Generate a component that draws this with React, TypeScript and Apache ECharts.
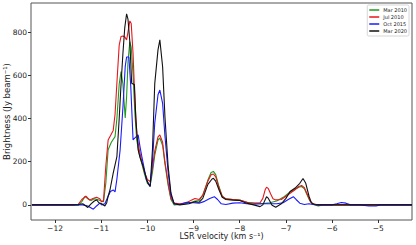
import React, { useEffect, useRef } from "react";
import * as echarts from "echarts";

const seriesNames = ["Mar 2010", "Jul 2010", "Oct 2015", "Mar 2020"];
const seriesColors = ["#1f9a1f", "#e8161b", "#1a1aff", "#111111"];

const xTicks = [-12, -11, -10, -9, -8, -7, -6, -5];
const yTicks = [0, 200, 400, 600, 800];

// [LSR velocity (km/s), brightness (Jy/beam)]
const mar2010: number[][] = [
  [-12.5, 0], [-11.6, 0], [-11.5, -3], [-11.42, 15], [-11.35, 40], [-11.3, 30], [-11.22, 20], [-11.15, 28],
  [-11.08, 25], [-11.0, 18], [-10.95, 15], [-10.9, 100], [-10.85, 255], [-10.78, 290], [-10.7, 316],
  [-10.66, 400], [-10.61, 560], [-10.57, 617], [-10.53, 560], [-10.48, 403], [-10.45, 500], [-10.42, 660],
  [-10.38, 756], [-10.35, 730], [-10.31, 600], [-10.27, 420], [-10.23, 300], [-10.18, 240], [-10.12, 190],
  [-10.06, 140], [-10.0, 100], [-9.94, 90], [-9.89, 150], [-9.84, 230], [-9.77, 300], [-9.73, 310],
  [-9.67, 275], [-9.62, 190], [-9.55, 90], [-9.49, 25], [-9.42, 0], [-9.3, 2], [-9.1, 8], [-8.97, 18],
  [-8.88, 20], [-8.8, 45], [-8.69, 115], [-8.62, 150], [-8.57, 155], [-8.52, 140], [-8.45, 85], [-8.38, 40],
  [-8.3, 28], [-8.15, 25], [-8.0, 22], [-7.85, 12], [-7.7, 8], [-7.5, 6], [-7.35, 10], [-7.2, 18],
  [-7.06, 35], [-6.91, 60], [-6.81, 72], [-6.72, 82], [-6.66, 85], [-6.6, 75], [-6.55, 50], [-6.48, 18],
  [-6.42, 3], [-6.3, -5], [-6.2, 0], [-4.27, 0],
];

const jul2010: number[][] = [
  [-12.5, 0], [-11.6, 0], [-11.5, 2], [-11.42, 25], [-11.33, 40], [-11.25, 22], [-11.18, 30], [-11.1, 35],
  [-11.03, 28], [-10.99, 14], [-10.95, 20], [-10.9, 180], [-10.85, 300], [-10.8, 320], [-10.74, 345],
  [-10.7, 420], [-10.65, 600], [-10.61, 740], [-10.57, 780], [-10.53, 782], [-10.49, 778], [-10.45, 764],
  [-10.42, 800], [-10.38, 852], [-10.35, 840], [-10.31, 700], [-10.27, 480], [-10.23, 330], [-10.18, 260],
  [-10.12, 200], [-10.06, 150], [-10.0, 118], [-9.94, 108], [-9.89, 170], [-9.84, 250], [-9.77, 315],
  [-9.73, 324], [-9.67, 290], [-9.62, 200], [-9.55, 100], [-9.49, 30], [-9.42, 8], [-9.3, 5], [-9.15, 10],
  [-9.05, 22], [-8.97, 30], [-8.88, 25], [-8.8, 45], [-8.69, 110], [-8.62, 140], [-8.57, 143], [-8.52, 130],
  [-8.45, 80], [-8.38, 40], [-8.3, 28], [-8.15, 25], [-8.0, 22], [-7.9, 15], [-7.8, 10], [-7.65, 8],
  [-7.56, 10], [-7.5, 30], [-7.45, 70], [-7.42, 82], [-7.38, 75], [-7.33, 50], [-7.28, 28], [-7.22, 23],
  [-7.1, 25], [-7.0, 40], [-6.91, 54], [-6.81, 69], [-6.72, 85], [-6.66, 90], [-6.6, 80], [-6.55, 55],
  [-6.48, 20], [-6.42, 5], [-6.3, 0], [-4.27, 0],
];

const oct2015: number[][] = [
  [-12.5, 0], [-11.6, 0], [-11.4, 0], [-11.29, -5], [-11.17, -20], [-11.1, -5], [-11.03, 8], [-10.99, 0],
  [-10.92, 5], [-10.85, 40], [-10.8, 62], [-10.74, 69], [-10.7, 60], [-10.66, 120], [-10.59, 255],
  [-10.53, 450], [-10.48, 640], [-10.45, 685], [-10.4, 685], [-10.36, 550], [-10.31, 301], [-10.27, 310],
  [-10.2, 324], [-10.16, 270], [-10.12, 224], [-10.02, 116], [-9.94, 85], [-9.89, 200], [-9.84, 380],
  [-9.77, 510], [-9.73, 532], [-9.67, 470], [-9.62, 320], [-9.55, 150], [-9.49, 45], [-9.42, 5], [-9.3, 2],
  [-9.15, 12], [-9.0, 10], [-8.88, 8], [-8.78, 15], [-8.65, 30], [-8.55, 38], [-8.48, 25], [-8.4, 5],
  [-8.3, 2], [-8.15, 8], [-8.0, 10], [-7.85, 5], [-7.7, 3], [-7.5, 5], [-7.35, 5], [-7.2, 5], [-7.06, 10],
  [-6.95, 25], [-6.84, 38], [-6.78, 25], [-6.7, 8], [-6.6, 2], [-6.5, 5], [-6.42, 2], [-6.3, 0], [-6.0, 0],
  [-5.9, 5], [-5.8, 11], [-5.7, 8], [-5.6, 0], [-5.4, 0], [-5.2, -5], [-5.05, -5], [-4.95, 0], [-4.27, 0],
];

const mar2020: number[][] = [
  [-12.5, 0], [-11.6, 0], [-11.5, 2], [-11.4, 5], [-11.33, -5], [-11.29, -12], [-11.22, 5], [-11.15, 18],
  [-11.1, 23], [-11.05, 10], [-10.99, 5], [-10.92, -5], [-10.88, 10], [-10.85, 40], [-10.81, 69],
  [-10.74, 147], [-10.66, 224], [-10.61, 400], [-10.57, 560], [-10.53, 700], [-10.49, 820], [-10.45, 885],
  [-10.42, 860], [-10.38, 756], [-10.34, 563], [-10.28, 556], [-10.25, 400], [-10.2, 255], [-10.16, 220],
  [-10.09, 177], [-10.02, 120], [-9.98, 97], [-9.94, 85], [-9.89, 255], [-9.84, 563], [-9.77, 718],
  [-9.73, 764], [-9.67, 640], [-9.62, 409], [-9.55, 177], [-9.49, 55], [-9.42, 5], [-9.3, 0], [-9.1, 5],
  [-8.97, 15], [-8.88, 12], [-8.8, 30], [-8.69, 95], [-8.6, 120], [-8.57, 123], [-8.52, 110], [-8.45, 70],
  [-8.38, 35], [-8.3, 25], [-8.15, 22], [-8.0, 20], [-7.85, 8], [-7.7, 0], [-7.56, -8], [-7.5, 0],
  [-7.42, 38], [-7.38, 30], [-7.3, -2], [-7.22, -11], [-7.1, 5], [-7.0, 30], [-6.91, 62], [-6.8, 78],
  [-6.7, 100], [-6.63, 122], [-6.57, 100], [-6.5, 40], [-6.45, 10], [-6.38, 2], [-6.3, 0], [-4.27, 0],
];

const seriesData = [mar2010, jul2010, oct2015, mar2020];

const FONT = "DejaVu Sans";

export default function App() {
  const ref = useRef<HTMLDivElement>(null);
  useEffect(() => {
    if (!ref.current) return;
    const chart = echarts.init(ref.current, undefined, { renderer: "svg" });
    chart.setOption({
      animation: false,
      backgroundColor: "#ffffff",
      textStyle: { fontFamily: FONT },
      grid: {
        left: 31,
        right: 4,
        top: 3,
        bottom: 25,
        outerBoundsMode: "none",
        containLabel: false,
        show: true,
        borderColor: "#555555",
        borderWidth: 1,
        backgroundColor: "transparent",
      },
      legend: {
        data: seriesNames,
        orient: "vertical",
        right: 7,
        top: 5,
        icon: "rect",
        itemWidth: 10,
        itemHeight: 1.5,
        itemGap: 1,
        padding: [2, 2, 2, 2],
        borderColor: "#cccccc",
        borderWidth: 0.8,
        borderRadius: 1.5,
        backgroundColor: "#ffffff",
        textStyle: { fontSize: 5, lineHeight: 6, color: "#222", fontFamily: FONT, padding: [0, 0, 0, -1] },
      },
      xAxis: {
        type: "value",
        min: -12.52,
        max: -4.27,
        name: "LSR velocity (km s⁻¹)",
        nameLocation: "middle",
        nameGap: 12,
        nameMoveOverlap: false,
        nameTextStyle: { fontSize: 8, color: "#222", fontFamily: FONT },
        axisLine: { show: false, onZero: false },
        axisTick: { show: true, inside: false, length: 3, customValues: xTicks, lineStyle: { color: "#333" } },
        axisLabel: {
          show: true,
          customValues: xTicks,
          fontSize: 7.5,
          color: "#222",
          margin: 4,
          fontFamily: FONT,
          formatter: (v: number) => (v < 0 ? "\u2212" + Math.abs(v) : String(v)),
        },
        splitLine: { show: false },
      },
      yAxis: {
        type: "value",
        min: -70,
        max: 935,
        name: "Brightness (Jy beam⁻¹)",
        nameLocation: "middle",
        nameRotate: 90,
        nameGap: 20,
        nameMoveOverlap: false,
        nameTextStyle: { fontSize: 8.5, color: "#222", fontFamily: FONT },
        axisLine: { show: false, onZero: false },
        axisTick: { show: true, inside: false, length: 3, customValues: yTicks, lineStyle: { color: "#333" } },
        axisLabel: {
          show: true,
          customValues: yTicks,
          fontSize: 7.5,
          color: "#222",
          margin: 4,
          fontFamily: FONT,
        },
        splitLine: { show: false },
      },
      series: seriesNames.map((name, i) => ({
        name,
        type: "line",
        data: seriesData[i],
        showSymbol: false,
        symbol: "none",
        color: seriesColors[i],
        lineStyle: { width: 1.1, color: seriesColors[i] },
        z: 2 + i,
      })),
    });
    return () => chart.dispose();
  }, []);
  return (
    <div
      ref={ref}
      style={{ position: "fixed", left: 0, top: 0, width: 416, height: 245 }}
    />
  );
}
